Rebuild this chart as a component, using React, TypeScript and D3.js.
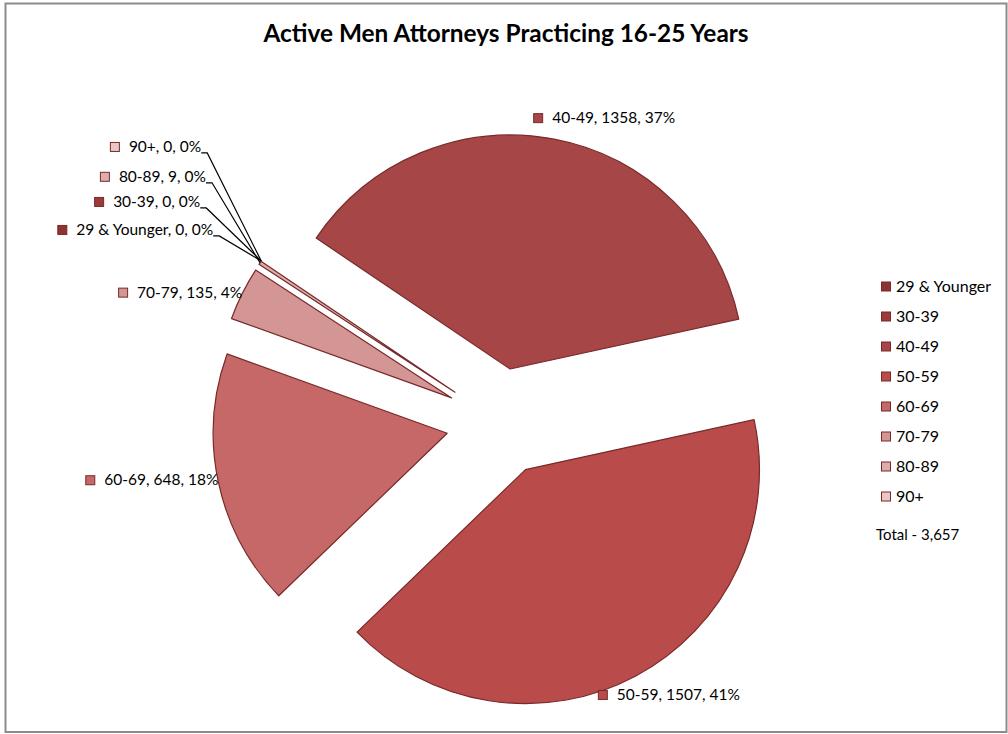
import React, { useEffect, useRef } from "react";
import * as d3 from "d3";

const categories = ["29 & Younger", "30-39", "40-49", "50-59", "60-69", "70-79", "80-89", "90+"];
const values = [0, 0, 1358, 1507, 648, 135, 9, 0];
const sliceColors = ["#8e3331", "#9b3a38", "#a74646", "#b94c4b", "#c56867", "#d49695", "#ddadad", "#e9c7c7"];
const chartTitle = "Active Men Attorneys Practicing 16-25 Years";
const totalLabel = "Total - 3,657";

const W = 1008;
const H = 734;
const FONT = "Lato, 'Open Sans', sans-serif";

export default function App() {
  const ref = useRef<SVGSVGElement | null>(null);

  useEffect(() => {
    const svg = d3.select(ref.current);
    svg.selectAll("*").remove();

    // frame
    svg.append("rect").attr("x", 0).attr("y", 0).attr("width", W).attr("height", H).attr("fill", "#fff");
    svg.append("rect")
      .attr("x", 5.5).attr("y", 3.5).attr("width", 1001).attr("height", 728.5)
      .attr("fill", "#fff").attr("stroke", "#8c8c8c").attr("stroke-width", 2);

    svg.append("text")
      .attr("x", 506).attr("y", 42)
      .attr("text-anchor", "middle")
      .attr("font-family", FONT).attr("font-weight", 700).attr("font-size", 24.4)
      .attr("fill", "#000")
      .text(chartTitle);

    const total = d3.sum(values);
    const cx = 500, cy = 422, R = 234, explode = 54;
    const start = (304 * Math.PI) / 180;
    const data = categories.map((c, i) => ({ cat: c, value: values[i], color: sliceColors[i] }));
    const pie = d3.pie<any>().value((d) => d.value).sort(null).startAngle(start).endAngle(start + 2 * Math.PI);
    const arcs = pie(data);
    const arc = d3.arc<any>().innerRadius(0).outerRadius(R);

    const g = svg.append("g").attr("transform", `translate(${cx},${cy})`);
    const mid = (a: any) => (a.startAngle + a.endAngle) / 2;

    g.selectAll("path.slice")
      .data(arcs.filter((a) => a.value > 0))
      .join("path")
      .attr("class", "slice")
      .attr("d", arc as any)
      .attr("transform", (a) => `translate(${Math.sin(mid(a)) * explode},${-Math.cos(mid(a)) * explode})`)
      .attr("fill", (a) => a.data.color)
      .attr("stroke", "#772a29")
      .attr("stroke-width", 1.2)
      .attr("stroke-linejoin", "round");

    const fs = 15.5;
    const pointAt = (a: any, r: number) => [cx + Math.sin(mid(a)) * r, cy - Math.cos(mid(a)) * r];

    const drawLabel = (a: any, x: number, yc: number, anchor: "start" | "end") => {
      const lg = svg.append("g");
      const t = lg.append("text")
        .attr("font-family", FONT).attr("font-size", fs).attr("fill", "#000")
        .attr("y", yc + 5)
        .text(`${a.data.cat}, ${a.data.value}, ${Math.round((a.data.value / total) * 100)}%`);
      const tw = (t.node() as SVGTextElement).getComputedTextLength();
      const left = anchor === "start" ? x : x - tw - 19;
      t.attr("x", left + 19);
      lg.append("rect")
        .attr("x", left + 0.5).attr("y", yc - 4.5).attr("width", 9).attr("height", 9)
        .attr("fill", a.data.color).attr("stroke", "#772a29").attr("stroke-width", 1);
      return tw;
    };

    // large-slice labels placement (relative to the outer arc point)
    const bigPlacement: Record<string, [number, number, "start" | "end"]> = {
      "40-49": [-21, -21, "start"],
      "50-59": [-38, 19, "start"],
      "60-69": [0, -2, "end"],
      "70-79": [0, -1, "end"],
    };
    // stacked small labels: leader end offset from the slice tip point
    const stackOrder = ["29 & Younger", "30-39", "80-89", "90+"];
    const leaderOffsets: [number, number][] = [[-42, -25], [-55, -53], [-48, -80], [-54, -108]];

    arcs.forEach((a) => {
      const p = bigPlacement[a.data.cat];
      if (p) {
        const [px, py] = pointAt(a, R + explode);
        drawLabel(a, px + p[0], py + p[1], p[2]);
      }
    });

    stackOrder.forEach((cat, k) => {
      const a = arcs.find((d) => d.data.cat === cat)!;
      const [tx, ty] = pointAt(a, R + explode);
      const ex = tx + leaderOffsets[k][0];
      const ey = ty + leaderOffsets[k][1];
      drawLabel(a, ex - 6, ey - 6, "end");
      svg.append("polyline")
        .attr("points", `${ex - 6},${ey} ${ex},${ey} ${tx},${ty}`)
        .attr("fill", "none").attr("stroke", "#000").attr("stroke-width", 1.2);
    });

    // legend
    const leg = svg.append("g");
    const legY = d3.scalePoint<string>().domain(categories).range([286.5, 496.5]);
    categories.forEach((c, i) => {
      const y = legY(c)!;
      leg.append("rect")
        .attr("x", 881.5).attr("y", y - 4.5).attr("width", 9).attr("height", 9)
        .attr("fill", sliceColors[i]).attr("stroke", "#772a29").attr("stroke-width", 1);
      leg.append("text")
        .attr("x", 896).attr("y", y + 5)
        .attr("font-family", FONT).attr("font-size", 16).attr("fill", "#000")
        .text(c);
    });
    leg.append("text")
      .attr("x", 876).attr("y", 540)
      .attr("font-family", FONT).attr("font-size", 15).attr("fill", "#000")
      .text(totalLabel);
  }, []);

  return (
    <svg
      ref={ref}
      width={W}
      height={H}
      style={{ position: "absolute", left: 0, top: 0, display: "block" }}
    />
  );
}
